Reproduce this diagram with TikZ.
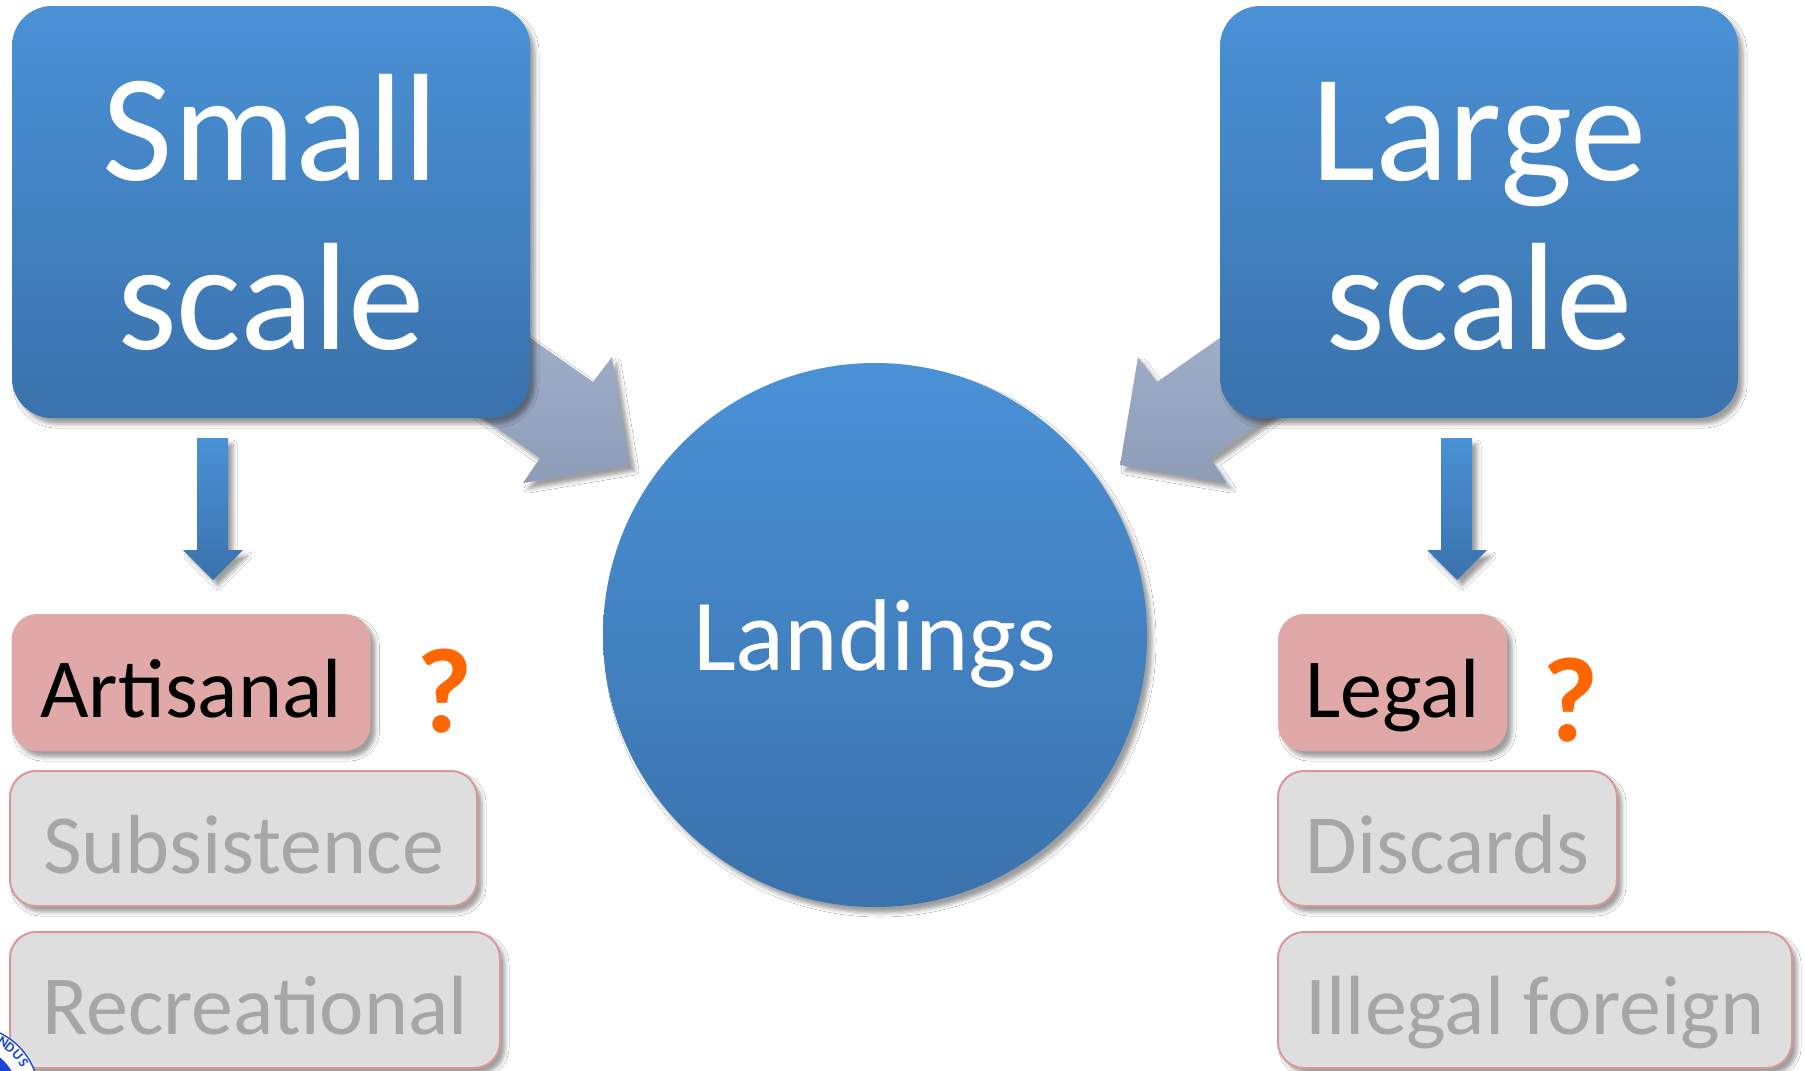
\documentclass[tikz,border=0pt]{standalone}
\usepackage{fontspec}
\setmainfont{Carlito}
\usetikzlibrary{shadows.blur}
\definecolor{blueTop}{RGB}{74,145,214}
\definecolor{blueBot}{RGB}{58,114,172}
\definecolor{arrTop}{RGB}{167,181,207}
\definecolor{arrBot}{RGB}{141,157,184}
\definecolor{pinkFill}{RGB}{224,168,166}
\definecolor{pinkLine}{RGB}{217,152,150}
\definecolor{greyFill}{RGB}{222,222,222}
\definecolor{greyText}{RGB}{166,166,166}
\definecolor{qOrange}{RGB}{255,102,0}
\definecolor{logoBlue}{RGB}{25,70,215}
\begin{document}
\begin{tikzpicture}[x=1pt,y=-1pt,
  shad/.style={blur shadow={shadow xshift=5pt, shadow yshift=-6pt, shadow blur radius=4pt, shadow opacity=38}},
  bluebox/.style={rectangle, rounded corners=40pt, top color=blueTop, bottom color=blueBot, draw=none,
    inner sep=0pt, text=white, align=center, font=\fontsize{153}{169}\selectfont, shad},
  landcircle/.style={circle, top color=blueTop, bottom color=blueBot, draw=none, inner sep=0pt,
    minimum size=544pt, text=white, text depth=0pt, font=\fontsize{102}{120}\selectfont, shad},
  smallbox/.style={rectangle, rounded corners=26pt, inner sep=0pt, minimum height=137pt,
    text height=69pt, text depth=0pt, font=\fontsize{84}{100}\selectfont, shad},
  pinkbox/.style={smallbox, fill=pinkFill, draw=none, text=black},
  greybox/.style={smallbox, fill=greyFill, draw=pinkLine, line width=2pt, text=greyText},
  bigarrow/.style={top color=arrTop, bottom color=arrBot, draw=none, shad},
  downarrow/.style={top color=blueTop, bottom color=blueBot, draw=none, shad},
  qmark/.style={anchor=base, text=qOrange, font=\fontsize{121}{140}\selectfont\bfseries},
  logoletter/.style={text=logoBlue, font=\fontsize{14}{16}\selectfont\bfseries, inner sep=0pt}
]
\useasboundingbox (0,0) rectangle (1805,1071);
\fill[white] (0,0) rectangle (1805,1071);

% big grey arrows towards Landings (tails hidden behind the boxes)
\path[bigarrow] (429,267) -- (593,382) -- (612,357) -- (630,465) -- (523,483) -- (540,458) -- (376,343) -- cycle;
\path[bigarrow] (1321,267) -- (1157,382) -- (1138,357) -- (1120,465) -- (1227,483) -- (1210,458) -- (1374,343) -- cycle;

% small blue down arrows
\path[downarrow] (197,438) -- (228,438) -- (228,550) -- (243,550) -- (213,580) -- (183,550) -- (197,550) -- cycle;
\path[downarrow] (1441,438) -- (1472,438) -- (1472,550) -- (1487,550) -- (1457,580) -- (1427,550) -- (1441,550) -- cycle;

% main boxes
\node[bluebox, minimum width=518pt, minimum height=412pt] (small) at (271,212) {Small\\scale};
\node[bluebox, minimum width=518pt, minimum height=412pt] (large) at (1479,212) {\vphantom{l}Large\\scale};
\node[landcircle] (land) at (875,635) {Landings};

% left column
\node[pinkbox, minimum width=359pt] (art) at (191,682.5) {Artisanal};
\node[greybox, minimum width=467pt, minimum height=135pt] (sub) at (243.5,838.5) {Subsistence};
\node[greybox, minimum width=490pt, minimum height=136pt] (rec) at (255,1000) {Recreational};
\node[qmark] (q1) at (445,732) {?};

% right column
\node[pinkbox, minimum width=229pt] (legal) at (1392.5,682.5) {Legal};
\node[greybox, minimum width=339pt, minimum height=135pt] (disc) at (1447.5,838.5) {Discards};
\node[greybox, minimum width=514pt, minimum height=136pt] (illeg) at (1535,1000) {Illegal foreign};
\node[qmark] (q2) at (1571,741) {?};

% corner logo fragment
\begin{scope}
\clip (0,0) rectangle (1805,1071);
\fill[logoBlue] (-30,1095) circle (69.5);
\fill[white] (-30,1095) circle (68);
\fill[logoBlue] (-30,1095) circle (48);
\node[logoletter, rotate=-32] (l1) at (3.5,1042) {N};
\node[logoletter, rotate=-39] (l2) at (10,1047.5) {D};
\node[logoletter, rotate=-49] (l3) at (17.5,1055) {U};
\node[logoletter, rotate=-58] (l4) at (23.5,1063) {S};
\end{scope}
\end{tikzpicture}
\end{document}
